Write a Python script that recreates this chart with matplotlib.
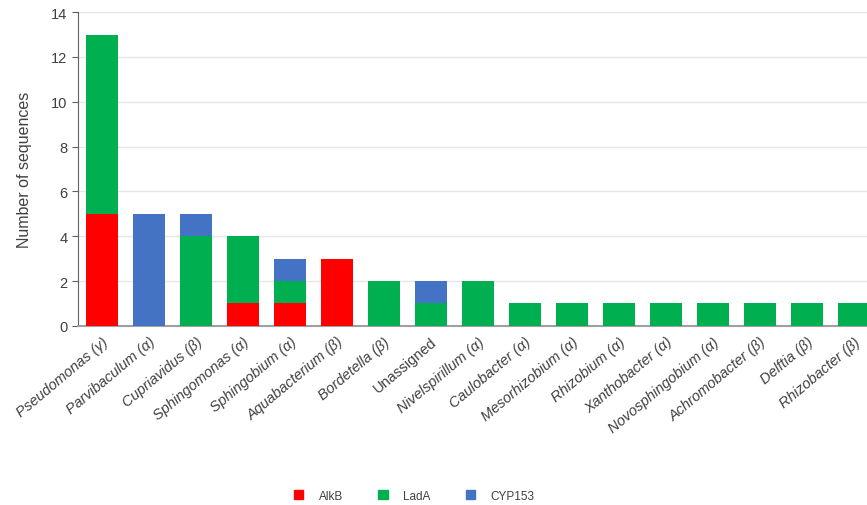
import matplotlib
matplotlib.use("Agg")
import matplotlib.pyplot as plt
from matplotlib.patches import Patch

plt.rcParams['font.family'] = ['Liberation Sans', 'DejaVu Sans']

genera = ["Pseudomonas (γ)", "Parvibaculum (α)", "Cupriavidus (β)", "Sphingomonas (α)",
          "Sphingobium (α)", "Aquabacterium (β)", "Bordetella (β)", "Unassigned",
          "Nivelspirillum (α)", "Caulobacter (α)", "Mesorhizobium (α)", "Rhizobium (α)",
          "Xanthobacter (α)", "Novosphingobium (α)", "Achromobacter (β)", "Delftia (β)",
          "Rhizobacter (β)"]
alkb = [5, 0, 0, 1, 1, 3, 0, 0, 0, 0, 0, 0, 0, 0, 0, 0, 0]
lada = [8, 0, 4, 3, 1, 0, 2, 1, 2, 1, 1, 1, 1, 1, 1, 1, 1]
cyp153 = [0, 5, 1, 0, 1, 0, 0, 1, 0, 0, 0, 0, 0, 0, 0, 0, 0]

c_red, c_green, c_blue = "#FF0000", "#00B050", "#4472C4"

fig = plt.figure(figsize=(8.67, 5.06), dpi=100)
ax = fig.add_axes([0.09, 0.354, 0.91, 0.62])

x = list(range(len(genera)))
w = 0.68
bottom2 = [a + b for a, b in zip(alkb, lada)]
ax.bar(x, alkb, w, color=c_red, zorder=3)
ax.bar(x, lada, w, bottom=alkb, color=c_green, zorder=3)
ax.bar(x, cyp153, w, bottom=bottom2, color=c_blue, zorder=3)

ax.set_ylim(0, 14)
ax.set_yticks(range(0, 15, 2))
ax.set_xlim(-0.51, 16.28)
ax.yaxis.grid(True, color="#E6E6E6", linewidth=1, zorder=0)
for s in ["top", "right"]:
    ax.spines[s].set_visible(False)
ax.spines["left"].set_color("#606060")
ax.spines["bottom"].set_color("#A0A0A0")
ax.spines["bottom"].set_linewidth(1.5)
ax.tick_params(axis="y", colors="#404040", labelsize=10.5, length=4, color="#606060")
ax.tick_params(axis="x", length=0, pad=6)
ax.set_xticks(x)
ax.set_xticklabels(genera, rotation=40, ha="right", va="top", rotation_mode="anchor",
                   fontsize=10.5, color="#404040")
for lab in ax.get_xticklabels():
    if lab.get_text() != "Unassigned":
        lab.set_style("italic")
ax.set_ylabel("Number of sequences", fontsize=11.5, color="#404040", labelpad=14)

handles = [Patch(color=c_red, label="AlkB"), Patch(color=c_green, label="LadA"),
           Patch(color=c_blue, label="CYP153")]
fig.legend(handles=handles, loc="lower center", bbox_to_anchor=(0.478, -0.015), ncol=3,
           frameon=False, fontsize=8.5, handlelength=0.8, handleheight=0.8,
           handletextpad=1.3, columnspacing=3.0, labelcolor="#404040")

fig.savefig("out.png")
